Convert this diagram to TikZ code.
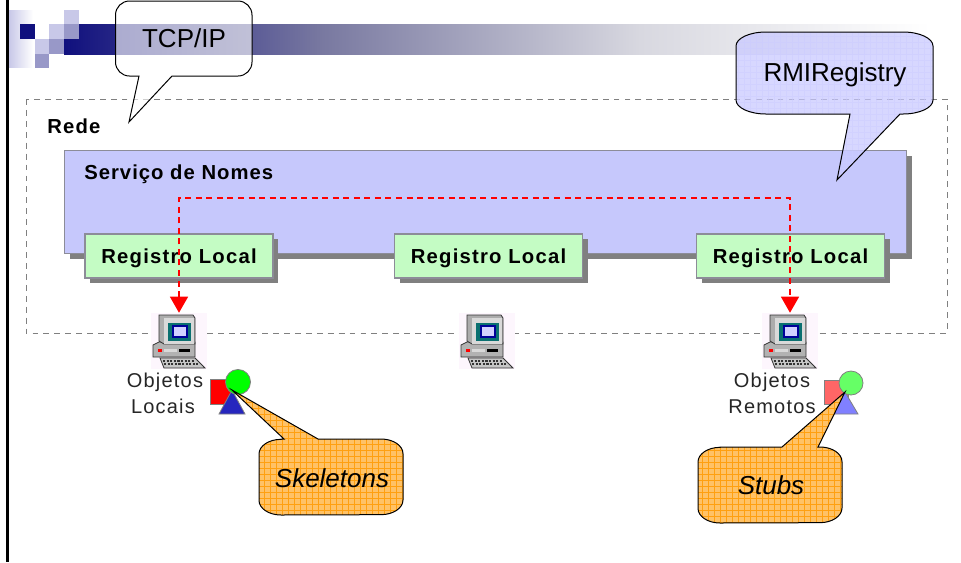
\documentclass[tikz,border=0pt]{standalone}
\usepackage{fontspec}
\setmainfont{Liberation Sans}
\newfontfamily\bmpfont{Liberation Sans}[LetterSpace=6]
\newfontfamily\svcfont{Liberation Sans}[LetterSpace=5]
\newfontfamily\thinfont{Liberation Sans}[LetterSpace=6]
\usetikzlibrary{arrows.meta,shadows}
\definecolor{navyb}{HTML}{10107E}
\definecolor{midb}{HTML}{7878A0}
\definecolor{paleb}{HTML}{D8D8E0}
\definecolor{sqlight}{HTML}{C8C8E8}
\definecolor{sqmid}{HTML}{9898C8}
\definecolor{svcfill}{HTML}{C6C8FC}
\definecolor{regfill}{HTML}{C4FCC4}
\definecolor{edgegray}{HTML}{8C8C98}
\definecolor{shadowgray}{HTML}{808080}
\definecolor{orangefill}{HTML}{FFC266}
\definecolor{orangeline}{HTML}{FFA010}
\definecolor{lavfill}{HTML}{C8C8FF}
\definecolor{iconbg}{HTML}{FDF6FD}
\definecolor{teal}{HTML}{0A7070}
\tikzset{
  x=.75pt,y=-.75pt,
  sq/.style={fill=#1,draw=none},
  svcbox/.style={draw=edgegray,line width=.9pt,fill=svcfill,inner sep=0pt,
    drop shadow={shadow xshift=3.75pt,shadow yshift=-3.75pt,fill=shadowgray,opacity=1}},
  regbox/.style={draw=edgegray,line width=.9pt,fill=regfill,minimum width=141pt,minimum height=33pt,inner sep=0pt,
    font=\bmpfont\fontsize{15.2}{18}\selectfont\bfseries,
    drop shadow={shadow xshift=3.75pt,shadow yshift=-3.75pt,fill=shadowgray,opacity=1}},
  pcbg/.style={fill=iconbg,draw=none,minimum width=42pt,minimum height=42pt,inner sep=0pt},
  netline/.style={draw=shadowgray,line width=.75pt,dash pattern=on 4.4pt off 3.8pt},
  rpcline/.style={draw=red,line width=.9pt,dash pattern=on 4.5pt off 3.4pt,
    {Triangle[width=13.5pt,length=12pt,fill=red]}-{Triangle[width=13.5pt,length=12pt,fill=red]}},
  labelb/.style={font=\bmpfont\fontsize{15.2}{18}\selectfont\bfseries,anchor=west,inner sep=0pt},
  objlabel/.style={font=\thinfont\fontsize{15}{19.5}\selectfont,align=center,text=black!85,inner sep=0pt},
  calltext/.style={font=\fontsize{19.5}{23}\selectfont,inner sep=0pt},
  callline/.style={draw=black,line width=.75pt},
  grayedge/.style={draw=gray,line width=.6pt},
}
\newcommand{\reglabel}{\raisebox{-5.6pt}[0pt][0pt]{Registro Local}}
\newcommand{\pcicon}[3]{%
  \node[pcbg] (#1) at (#2,#3) {};
  \begin{scope}[shift={(#2,#3)}]
    \draw[black!80,line width=.6pt,fill=gray!60] (-26,4) -- (-20,1) -- (16,1) -- (16,16) -- (-26,16) -- cycle;
    \fill[red] (-21,8) rectangle (-17,11);
    \fill[black] (0,8) rectangle (11,10.5);
    \fill[gray!30] (-15,8) rectangle (-2,11);
    \draw[black!80,line width=.6pt,fill=gray!65] (-20,-26) -- (14,-26) -- (16,-23) -- (16,3) -- (-15,3) -- (-20,0) -- cycle;
    \fill[gray!30] (-15,-23) rectangle (15,3);
    \fill[teal] (-11,-18) rectangle (12,0);
    \draw[blue!60!black,line width=.9pt,fill=blue!18!white] (-6,-15) rectangle (8,-4);
    \draw[black!80,line width=.6pt,fill=gray!45] (-19,17) -- (16,17) -- (26,27) -- (-15,27) -- cycle;
    \foreach \yy/\xa/\xb in {20/-16/16,23/-15/19}{
      \draw[black!80,line width=1.2pt,dash pattern=on 1.6pt off 1.1pt] (\xa,\yy) -- (\xb,\yy);
    }
  \end{scope}
}
\newcommand{\tcppath}{(129.5,1) -- (238,1) arc[start angle=90,end angle=0,radius=10.5pt] -- (252,62) arc[start angle=0,end angle=-90,radius=10.5pt] -- (172,76) -- (129,122) -- (139,76) -- (129.5,76) arc[start angle=-90,end angle=-180,radius=10.5pt] -- (115.5,15) arc[start angle=180,end angle=90,radius=10.5pt] -- cycle}
\newcommand{\rmipath}{(766,32) -- (903,32) arc[start angle=90,end angle=0,x radius=22.5pt,y radius=10.5pt] -- (933,100) arc[start angle=0,end angle=-90,x radius=22.5pt,y radius=10.5pt] -- (900,114) -- (837,180) -- (850,114) -- (766,114) arc[start angle=-90,end angle=-180,x radius=22.5pt,y radius=10.5pt] -- (736,46) arc[start angle=180,end angle=90,x radius=22.5pt,y radius=10.5pt] -- cycle}
\newcommand{\skelpath}{(281,439) -- (284,439) -- (232,390) -- (318,439) -- (381,439) arc[start angle=90,end angle=0,x radius=16.5pt,y radius=11pt] -- (403,500) arc[start angle=0,end angle=-90,x radius=16.5pt,y radius=11pt] -- (281,515) arc[start angle=-90,end angle=-180,x radius=16.5pt,y radius=11pt] -- (259,454) arc[start angle=180,end angle=90,x radius=16.5pt,y radius=11pt] -- cycle}
\newcommand{\stubpath}{(720,447) -- (782,447) -- (845,392) -- (818,447) -- (820,447) arc[start angle=90,end angle=0,x radius=16.5pt,y radius=11pt] -- (842,508) arc[start angle=0,end angle=-90,x radius=16.5pt,y radius=11pt] -- (720,523) arc[start angle=-90,end angle=-180,x radius=16.5pt,y radius=11pt] -- (698,462) arc[start angle=180,end angle=90,x radius=16.5pt,y radius=11pt] -- cycle}
\begin{document}
\begin{tikzpicture}
\useasboundingbox (0,0) rectangle (961,562);
\fill[white] (0,0) rectangle (961,562);
% template banner
\shade[left color=navyb,right color=midb,draw=none] (64,24) rectangle (320.5,54);
\shade[left color=midb,right color=paleb,draw=none] (320,24) rectangle (640.5,54);
\shade[left color=paleb,right color=white,draw=none] (640,24) rectangle (930,54);
\shade[left color=sqlight,right color=white,draw=none] (9,10) rectangle (33,67);
\fill[sq=navyb] (20,24) rectangle (35,39);
\fill[sq=sqlight] (35,39) rectangle (49,54);
\fill[sq=sqlight] (49,24) rectangle (64,39);
\fill[sq=sqlight] (64,10) rectangle (79,24);
\fill[sq=sqmid] (64,24) rectangle (79,39);
\fill[sq=sqmid] (49,39) rectangle (64,54);
\fill[sq=sqmid] (35,54) rectangle (49,68);
\draw[black,line width=2.25pt] (7.5,0) -- (7.5,562);
% network frame
\draw[netline] (26,99) rectangle (947,333);
\node[labelb] (rede) at (47,126) {Rede};
% naming service
\node[svcbox,minimum width=631.5pt,minimum height=77.25pt,anchor=north west] (svc) at (64,150) {};
\node[labelb,font=\svcfont\fontsize{15.2}{18}\selectfont\bfseries] (svclabel) at (84,174.5) {Serviço de Nomes};
% local registries
\node[regbox] (reg1) at (179,256) {\reglabel};
\node[regbox] (reg2) at (488.5,256) {\reglabel};
\node[regbox] (reg3) at (790.5,256) {\reglabel};
% computers
\pcicon{pc1}{179}{341}
\pcicon{pc2}{487}{341}
\pcicon{pc3}{790}{341}
\coordinate (top) at (485,198);
\draw[rpcline] (pc1.north) -- (pc1.north |- top) -- (pc3.north |- top) -- (pc3.north);
\node[objlabel] (objl) at (165,393) {Objetos\\\hspace*{-3pt}Locais};
\node[objlabel] (objr) at (772,393) {Objetos\\Remotos};
% local objects
\fill[red,grayedge] (210,379) rectangle (234,404);
\fill[blue!70!black!85,grayedge] (232,390) -- (245,414) -- (219,414) -- cycle;
\fill[green,grayedge] (238,382) circle[radius=9.4pt];
% remote objects
\fill[red!60!white,grayedge] (824,380) rectangle (848,404);
\fill[blue!50!white,grayedge] (845,392) -- (858,414) -- (832,414) -- cycle;
\fill[green!60!white,grayedge] (851,383) circle[radius=9pt];
% callouts
\fill[white,fill opacity=.62] \tcppath;
\draw[callline] \tcppath;
\node[calltext] (tcp) at (184,38) {TCP/IP};
\fill[lavfill,fill opacity=.72] \rmipath;
\begin{scope}
  \clip \rmipath;
  \draw[white!80!blue,line width=.4pt,opacity=.5,step=4.5pt] (730,25) grid (940,185);
\end{scope}
\draw[callline] \rmipath;
\node[calltext] (rmi) at (835,75) {RMIRegistry};
\fill[orangefill] \skelpath;
\begin{scope}
  \clip \skelpath;
  \draw[orangeline,line width=.5pt,step=4.5pt] (225,385) grid (410,520);
\end{scope}
\draw[callline] \skelpath;
\node[calltext,font=\fontsize{19.5}{23}\selectfont\itshape] (skel) at (332,478) {Skeletons};
\fill[orangefill] \stubpath;
\begin{scope}
  \clip \stubpath;
  \draw[orangeline,line width=.5pt,step=4.5pt] (690,385) grid (850,530);
\end{scope}
\draw[callline] \stubpath;
\node[calltext,font=\fontsize{19.5}{23}\selectfont\itshape] (stub) at (771,485) {Stubs};
\end{tikzpicture}
\end{document}
